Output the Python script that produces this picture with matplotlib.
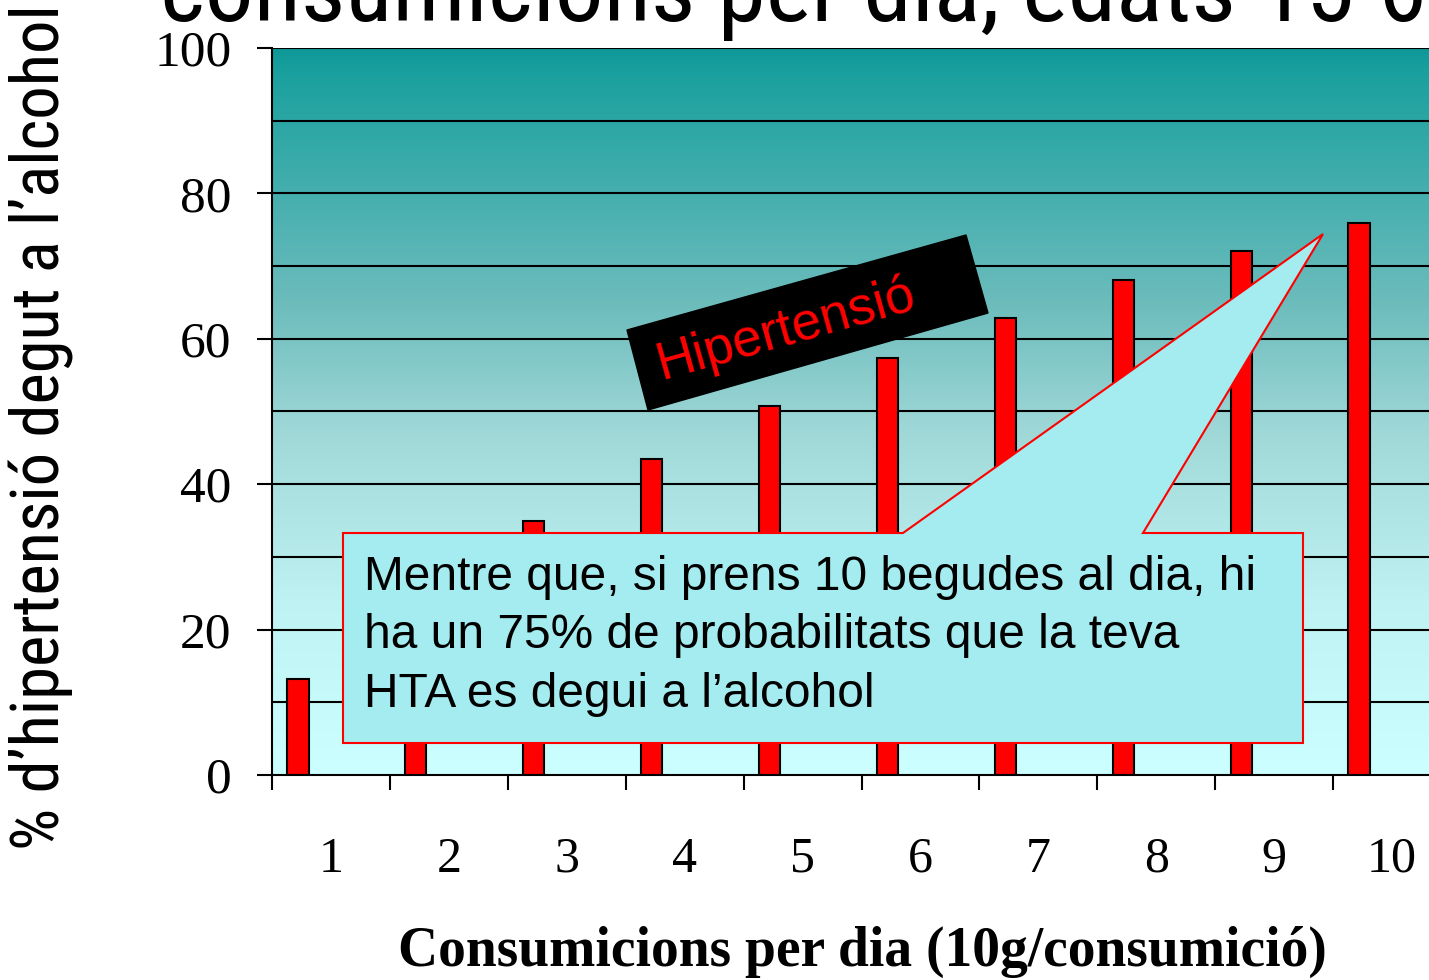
import numpy as np
import matplotlib
matplotlib.use("Agg")
import matplotlib.pyplot as plt
from matplotlib.patches import Polygon
from matplotlib.colors import LinearSegmentedColormap
from matplotlib import font_manager

# ---- data ----
categories = ["1", "2", "3", "4", "5", "6", "7", "8", "9", "10"]
values = [13.2, 25, 34.9, 43.5, 50.8, 57.4, 62.9, 68.1, 72.1, 75.9]
y_ticks = [0, 20, 40, 60, 80, 100]
title_text = "consumicions per dia, edats 15-60"
ylabel_text = "% d\u2019hipertensi\u00f3 degut a l\u2019alcohol"
xlabel_text = "Consumicions per dia (10g/consumici\u00f3)"
callout_text = ("Mentre que, si prens 10 begudes al dia, hi\n"
                "ha un 75% de probabilitats que la teva\n"
                "HTA es degui a l\u2019alcohol")
badge_text = "Hipertensi\u00f3"

names = {f.name for f in font_manager.fontManager.ttflist}
narrow = None
for cand in ["Liberation Sans Narrow", "Roboto Condensed", "Open Sans Condensed",
             "DejaVu Sans Condensed", "Arial Narrow"]:
    if cand in names:
        narrow = cand
        break
sans = "Liberation Sans"
serif = "Liberation Serif"
if narrow is None:
    narrow = sans
    title_size, ylab_size = 62, 45
else:
    title_size, ylab_size = 70, 48

W, H = 1429, 980
fig = plt.figure(figsize=(W / 100, H / 100), dpi=100)

def fx(px):
    return px / W

def fy(py):
    return 1 - py / H

ax_left, ax_right, ax_top, ax_bot = 272, 1451, 48, 775
ax = fig.add_axes([fx(ax_left), fy(ax_bot), (ax_right - ax_left) / W, (ax_bot - ax_top) / H])

n = len(categories)
ax.set_xlim(0, n)
ax.set_ylim(0, 100)

# gradient background
cmap = LinearSegmentedColormap.from_list(
    "bg", [(0.0, "#ccffff"), (0.24, "#bff2f2"), (0.47, "#a0d8d8"),
           (0.65, "#6cbcbc"), (0.97, "#19a09e"), (1.0, "#0e9898")])
grad = np.linspace(0, 1, 256).reshape(-1, 1)
ax.imshow(grad, extent=[0, n, 0, 100], origin="lower", aspect="auto", cmap=cmap, zorder=0)

# gridlines
for gy in range(10, 101, 10):
    ax.axhline(gy, color="black", lw=1.5, zorder=1)

# bars
x = np.arange(n)
ax.bar(x + 0.22, values, width=0.18, color="#ff0000", edgecolor="black", lw=1.5, zorder=2)

# ticks
ax.set_xticks(np.arange(0, n + 1))
ax.set_xticklabels([])
ax.set_xticks(x + 0.5, minor=True)
ax.set_xticklabels(categories, minor=True, fontfamily=serif, fontsize=36)
ax.tick_params(axis="x", which="major", direction="out", length=11, width=1.5)
ax.tick_params(axis="x", which="minor", length=0, pad=44)
ax.set_yticks(y_ticks)
ax.set_yticklabels([str(v) for v in y_ticks], fontfamily=serif, fontsize=37)
ax.tick_params(axis="y", direction="out", length=11, width=1.5, pad=18)
for s in ["left", "bottom"]:
    ax.spines[s].set_linewidth(1.5)
ax.spines["top"].set_visible(False)
ax.spines["right"].set_visible(False)

# labels and title
fig.text(fx(160), fy(21), title_text, fontfamily=narrow, fontsize=title_size,
         ha="left", va="baseline")
fig.text(fx(42), fy(850), ylabel_text, fontfamily=narrow, fontsize=ylab_size, rotation=90,
         ha="center", va="bottom")
fig.text(fx(862), fy(952), xlabel_text, fontfamily=serif, fontsize=40, fontweight="bold",
         ha="center", va="center")

# callout
pts = [(343, 533), (903, 533), (1323, 234), (1143, 533), (1303, 533), (1303, 743), (343, 743)]
poly = Polygon([(fx(a), fy(b)) for a, b in pts], closed=True, transform=fig.transFigure,
               facecolor="#a4ecf0", edgecolor="#ff0000", lw=1.5, zorder=5)
fig.patches.append(poly)
fig.text(fx(364), fy(555), callout_text, fontfamily=sans, fontsize=34.5, ha="left", va="top",
         linespacing=1.38, zorder=6)

# black rotated badge
badge_pts = [(627, 330), (966, 235), (988, 313), (648, 410)]
badge = Polygon([(fx(a), fy(b)) for a, b in badge_pts], closed=True, transform=fig.transFigure,
                facecolor="black", edgecolor="black", zorder=5)
fig.patches.append(badge)
fig.text(fx(786), fy(330), badge_text, fontfamily=sans, fontsize=38, color="#ff0000",
         rotation=15.7, rotation_mode="anchor", ha="center", va="center", zorder=6)

fig.savefig("out.png", dpi=100)
